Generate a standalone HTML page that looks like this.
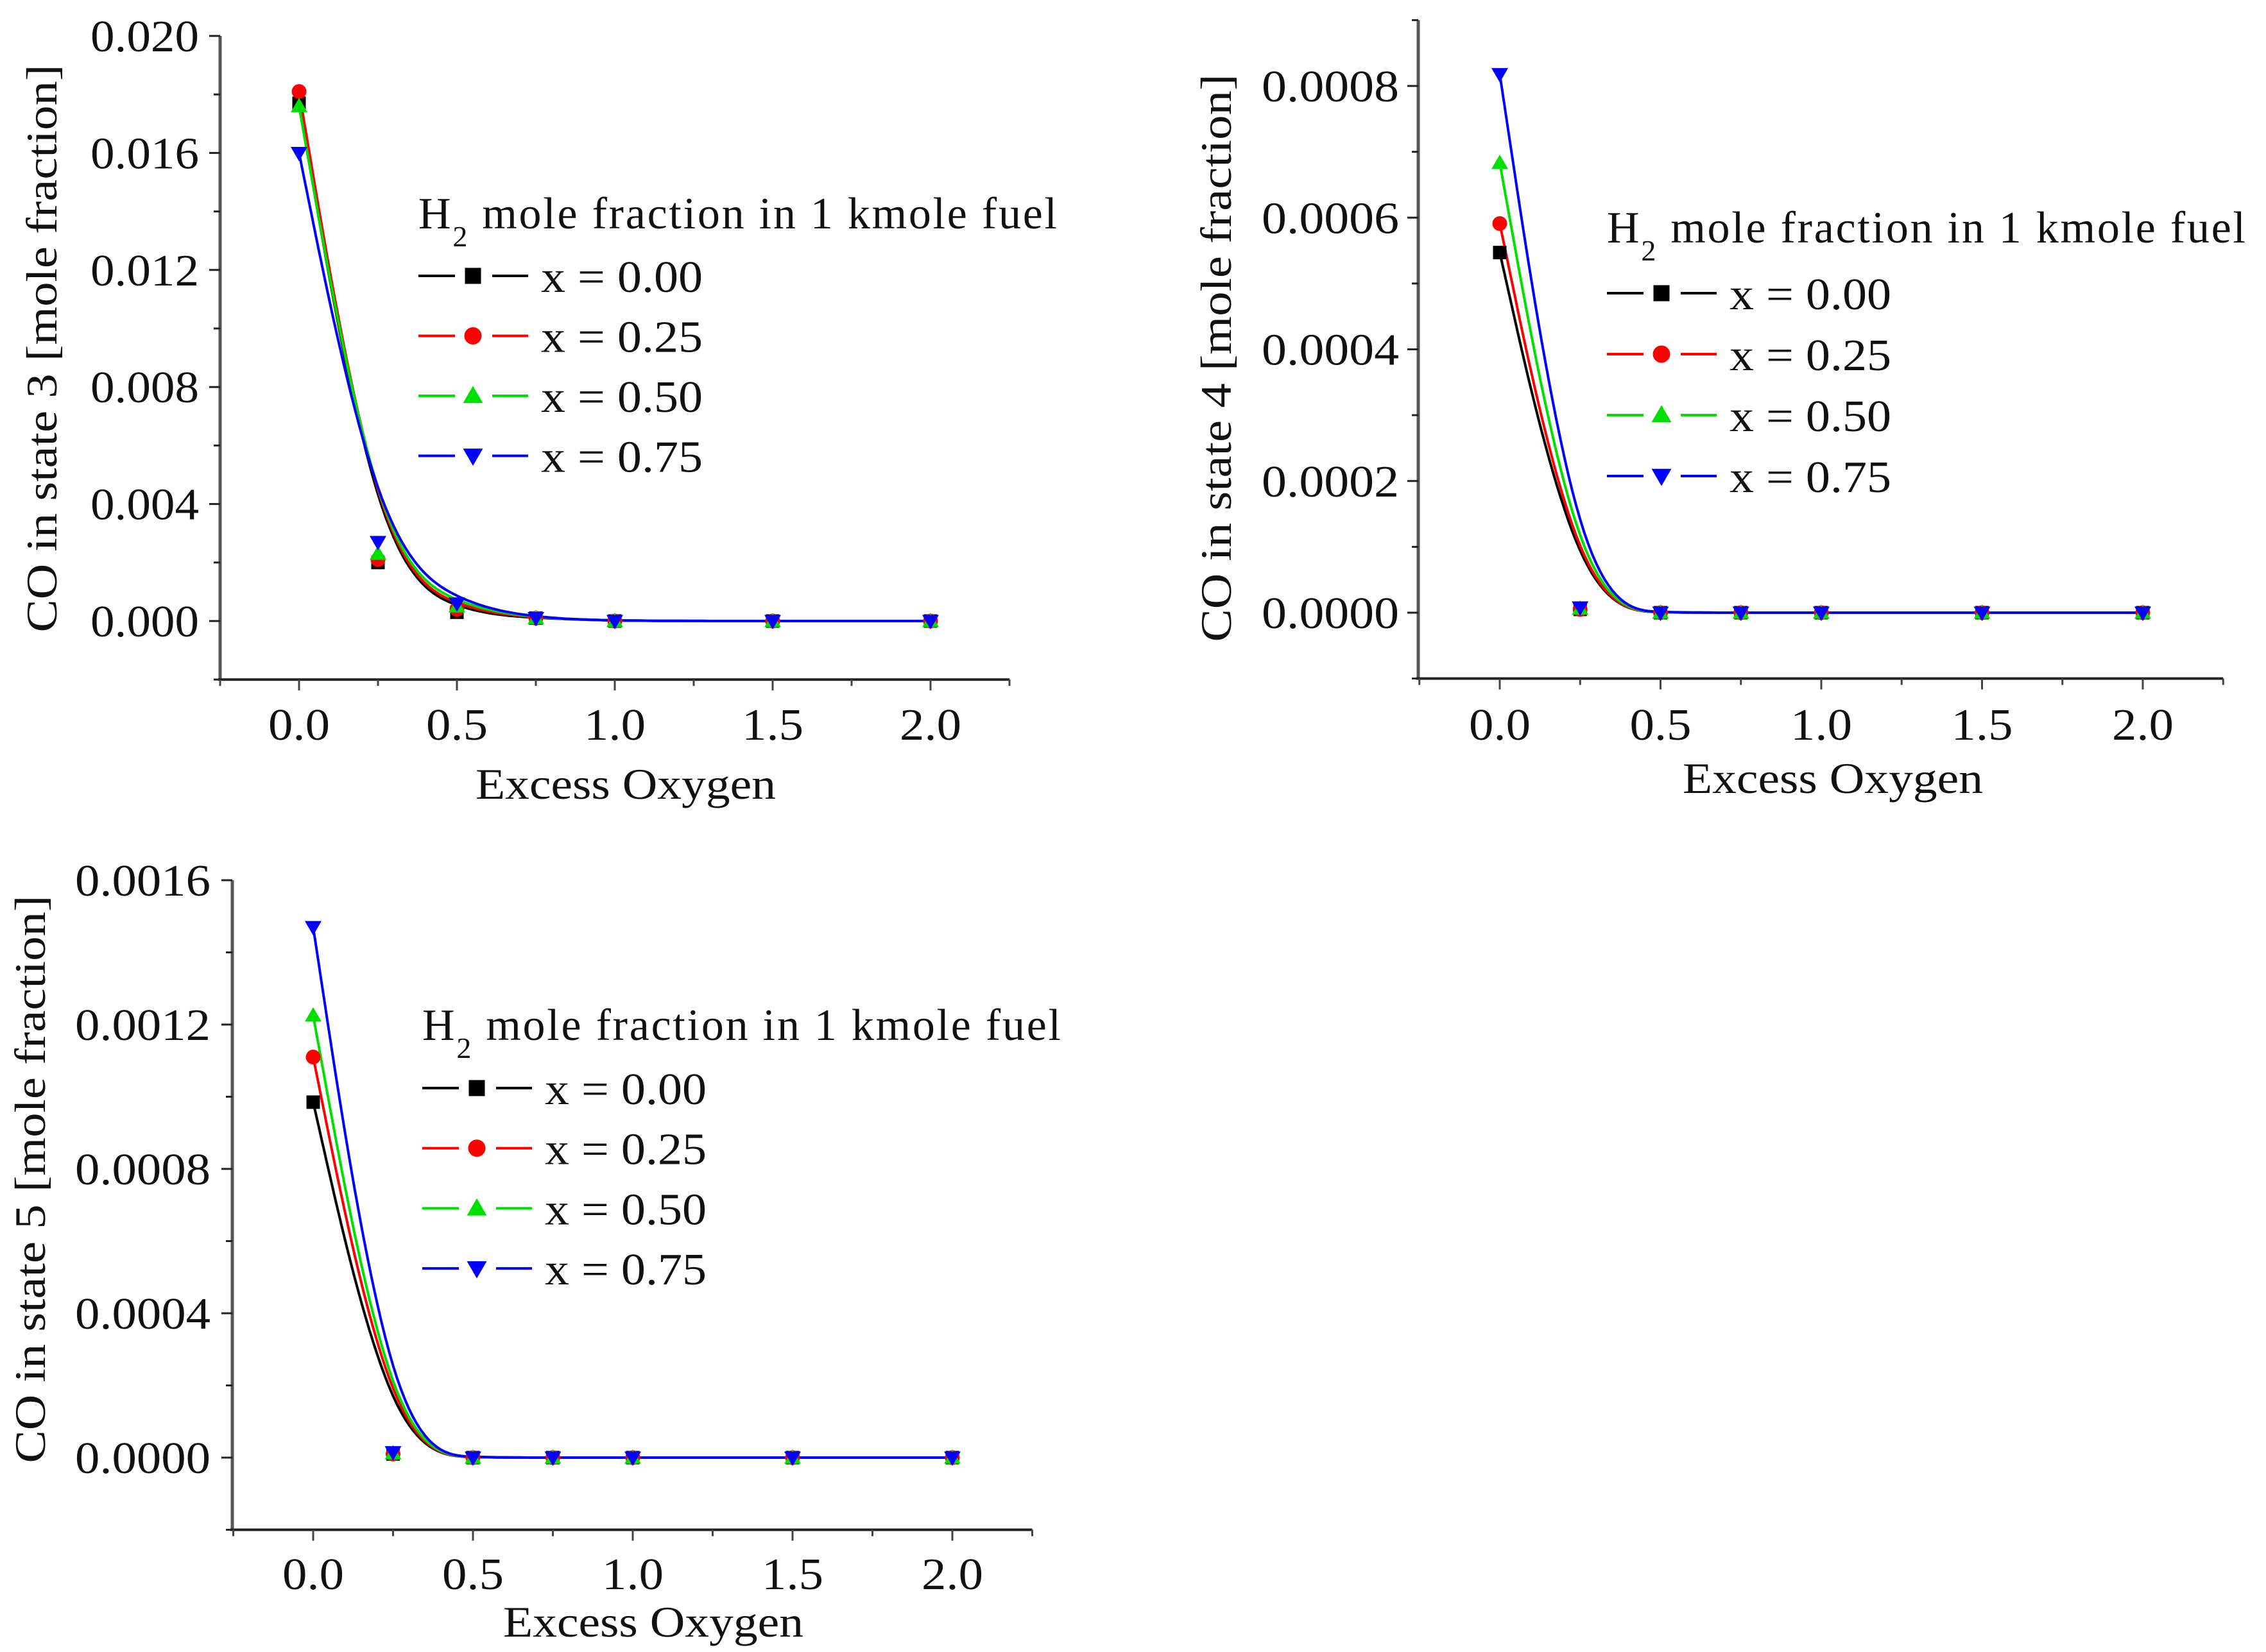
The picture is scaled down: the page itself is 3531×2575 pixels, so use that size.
<!DOCTYPE html>
<html><head><meta charset="utf-8">
<style>
html,body{margin:0;padding:0;background:#fff;}
svg{display:block;font-family:"Liberation Serif",serif;}
</style></head>
<body>
<svg id="fig" width="3531" height="2575" viewBox="0 0 3531 2575" xmlns="http://www.w3.org/2000/svg"></svg>
<script>
// Shared categories
const excessOxygen = [0, 0.25, 0.5, 0.75, 1.0, 1.5, 2.0];
const seriesLabels = ["x = 0.00", "x = 0.25", "x = 0.50", "x = 0.75"];
const xTickLabels = ["0.0", "0.5", "1.0", "1.5", "2.0"];
const xTickValues = [0, 0.5, 1.0, 1.5, 2.0];

// Chart 1: CO in state 3
const state3_x000 = [0.0177, 0.0020, 0.0003, 0.0001, 0, 0, 0];
const state3_x025 = [0.0181, 0.0021, 0.0004, 0.0001, 0, 0, 0];
const state3_x050 = [0.0176, 0.0023, 0.0005, 0.0001, 0, 0, 0];
const state3_x075 = [0.0160, 0.0027, 0.0006, 0.0001, 0, 0, 0];
const state3_yTicks = [0.000, 0.004, 0.008, 0.012, 0.016, 0.020];
const state3_yTickLabels = ["0.000", "0.004", "0.008", "0.012", "0.016", "0.020"];

// Chart 2: CO in state 4
const state4_x000 = [0.000547, 0.000005, 0, 0, 0, 0, 0];
const state4_x025 = [0.000591, 0.000005, 0, 0, 0, 0, 0];
const state4_x050 = [0.000683, 0.000006, 0, 0, 0, 0, 0];
const state4_x075 = [0.000818, 0.000008, 0, 0, 0, 0, 0];
const state4_yTicks = [0.0000, 0.0002, 0.0004, 0.0006, 0.0008];
const state4_yTickLabels = ["0.0000", "0.0002", "0.0004", "0.0006", "0.0008"];

// Chart 3: CO in state 5
const state5_x000 = [0.000985, 0.000010, 0, 0, 0, 0, 0];
const state5_x025 = [0.00111, 0.000010, 0, 0, 0, 0, 0];
const state5_x050 = [0.001225, 0.000012, 0, 0, 0, 0, 0];
const state5_x075 = [0.00147, 0.000015, 0, 0, 0, 0, 0];
const state5_yTicks = [0.0000, 0.0004, 0.0008, 0.0012, 0.0016];
const state5_yTickLabels = ["0.0000", "0.0004", "0.0008", "0.0012", "0.0016"];

const NS = "http://www.w3.org/2000/svg";
const svg = document.getElementById("fig");
const colors = ["#000000", "#ff0000", "#00e000", "#0000ff"];
const markers = ["square", "circle", "up", "down"];

function mk(tag, attrs, parent) {
  const e = document.createElementNS(NS, tag);
  for (const k in attrs) e.setAttribute(k, attrs[k]);
  (parent || svg).appendChild(e);
  return e;
}

function drawMarker(g, type, cx, cy, color, s) {
  let m;
  if (type === "square") m = mk("rect", {x: cx - s/2, y: cy - s/2, width: s, height: s, fill: color}, g);
  else if (type === "circle") m = mk("circle", {cx: cx, cy: cy, r: s/2 + 1, fill: color}, g);
  else if (type === "up") m = mk("polygon", {points: `${cx},${cy - s*0.62} ${cx - s*0.62},${cy + s*0.45} ${cx + s*0.62},${cy + s*0.45}`, fill: color}, g);
  else m = mk("polygon", {points: `${cx},${cy + s*0.62} ${cx - s*0.62},${cy - s*0.45} ${cx + s*0.62},${cy - s*0.45}`, fill: color}, g);
  return m;
}

function bspline(pts) {
  const P = [pts[0], pts[0], ...pts, pts[pts.length-1], pts[pts.length-1]];
  let d = "";
  for (let i = 0; i < P.length - 3; i++) {
    for (let k = 0; k <= 20; k++) {
      const t = k / 20, t2 = t*t, t3 = t2*t;
      const b0 = (1 - 3*t + 3*t2 - t3) / 6, b1 = (4 - 6*t2 + 3*t3) / 6,
            b2 = (1 + 3*t + 3*t2 - 3*t3) / 6, b3 = t3 / 6;
      const x = b0*P[i][0] + b1*P[i+1][0] + b2*P[i+2][0] + b3*P[i+3][0];
      const y = b0*P[i][1] + b1*P[i+1][1] + b2*P[i+2][1] + b3*P[i+3][1];
      d += (d === "" ? "M" : "L") + x.toFixed(1) + "," + y.toFixed(1);
    }
  }
  return d;
}

function chart(cfg) {
  const g = mk("g", {});
  
  
  const X = v => cfg.x0 + v * cfg.xUnit;
  const Y = v => cfg.y0 - v * cfg.yUnit;

  const yAxis = mk("line", {x1: cfg.axX, y1: Y(cfg.yTop), x2: cfg.axX, y2: Y(cfg.yBot), stroke: "#555", "stroke-width": 5}, g);
  
  
  const xAxis = mk("line", {x1: cfg.axX - 3, y1: Y(cfg.yBot), x2: X(2.25), y2: Y(cfg.yBot), stroke: "#222", "stroke-width": 4}, g);
  
  

  for (let v = cfg.yBot; v <= cfg.yTop + 1e-12; v += cfg.yMinor) {
    const isMajor = cfg.yTicks.some(t => Math.abs(t - v) < cfg.yMinor * 0.01);
    mk("line", {x1: cfg.axX - (isMajor ? 17 : 10), y1: Y(v), x2: cfg.axX, y2: Y(v), stroke: "#222", "stroke-width": 3}, g);
  }
  cfg.yTicks.forEach((v, i) => {
    const t = mk("text", {x: cfg.labRight, y: Y(v) + 24, "text-anchor": "end", "font-size": 70, fill: "#111", textLength: cfg.yLabLen, lengthAdjust: "spacingAndGlyphs"}, g);
    t.textContent = cfg.yTickLabels[i];
    
    
  });
  for (let v = -0.25; v <= 2.25 + 1e-9; v += 0.25) {
    const isMajor = Math.abs(v * 2 - Math.round(v * 2)) < 1e-6;
    mk("line", {x1: X(v), y1: Y(cfg.yBot), x2: X(v), y2: Y(cfg.yBot) + (isMajor ? 17 : 10), stroke: "#444", "stroke-width": 3}, g);
  }
  xTickValues.forEach((v, i) => {
    const t = mk("text", {x: X(v), y: cfg.xLabBase, "text-anchor": "middle", "font-size": 70, fill: "#111", textLength: 96, lengthAdjust: "spacingAndGlyphs"}, g);
    t.textContent = xTickLabels[i];
    
    
  });
  const xt = mk("text", {x: cfg.xTitleX, y: cfg.xTitleY, "text-anchor": "middle", "font-size": 68, fill: "#111", textLength: 468, lengthAdjust: "spacingAndGlyphs"}, g);
  xt.textContent = "Excess Oxygen";
  
  
  const yt = mk("text", {x: 0, y: 0, "text-anchor": "middle", "font-size": 68, fill: "#111", textLength: 885, lengthAdjust: "spacingAndGlyphs", transform: `translate(${cfg.yTitleX},${cfg.yTitleY}) rotate(-90)`}, g);
  yt.textContent = cfg.yTitle;
  
  

  cfg.series.forEach((vals, si) => {
    const pts = excessOxygen.map((x, i) => [X(x), Y(vals[i])]);
    const path = mk("path", {d: bspline(pts), fill: "none", stroke: colors[si], "stroke-width": 4}, g);
    
    
  });
  cfg.series.forEach((vals, si) => {
    excessOxygen.forEach((x, i) => {
      const m = drawMarker(g, markers[si], X(x), Y(vals[i]), colors[si], 21);
      
      
    });
  });

  const lg = mk("g", {}, g);
  
  
  const lt = mk("text", {x: cfg.legX, y: cfg.legTitleY, "font-size": 70, fill: "#111"}, lg);
  
  
  lt.innerHTML = 'H<tspan font-size="46" dy="28">2</tspan><tspan dy="-28"> mole fraction in 1 kmole fuel</tspan>';
  lt.setAttribute("textLength", 995);
  seriesLabels.forEach((lab, si) => {
    const cy = cfg.legY0 + si * cfg.legDy;
    const e = mk("g", {}, lg);
    
    
    mk("line", {x1: cfg.legX, y1: cy, x2: cfg.legX + 57, y2: cy, stroke: colors[si], "stroke-width": 4}, e);
    mk("line", {x1: cfg.legX + 115, y1: cy, x2: cfg.legX + 171, y2: cy, stroke: colors[si], "stroke-width": 4}, e);
    drawMarker(e, markers[si], cfg.legX + 85, cy, colors[si], 25);
    const t = mk("text", {x: cfg.legX + 191, y: cy + 25, "font-size": 70, fill: "#111", textLength: 252, lengthAdjust: "spacingAndGlyphs"}, e);
    t.textContent = lab;
  });
}

chart({name: "chart-state-3", axX: 343, x0: 466, xUnit: 492, y0: 968, yUnit: 912/0.02,
  yTop: 0.020, yBot: -0.002, yMinor: 0.002, yTicks: state3_yTicks, yTickLabels: state3_yTickLabels, yLabLen: 169,
  labRight: 310, xLabBase: 1153, xTitleX: 975, xTitleY: 1245, yTitleX: 88, yTitleY: 543,
  yTitle: "CO in state 3 [mole fraction]",
  series: [state3_x000, state3_x025, state3_x050, state3_x075],
  legX: 652, legTitleY: 356, legY0: 430, legDy: 93.5});

chart({name: "chart-state-4", axX: 2210, x0: 2337, xUnit: 501, y0: 955, yUnit: 821/0.0008,
  yTop: 0.0009, yBot: -0.0001, yMinor: 0.0001, yTicks: state4_yTicks, yTickLabels: state4_yTickLabels, yLabLen: 214,
  labRight: 2180, xLabBase: 1153, xTitleX: 2856, xTitleY: 1236, yTitleX: 1918, yTitleY: 558,
  yTitle: "CO in state 4 [mole fraction]",
  series: [state4_x000, state4_x025, state4_x050, state4_x075],
  legX: 2504, legTitleY: 378, legY0: 457, legDy: 95});

chart({name: "chart-state-5", axX: 362, x0: 488, xUnit: 498, y0: 2272, yUnit: 900/0.0016,
  yTop: 0.0016, yBot: -0.0002, yMinor: 0.0002, yTicks: state5_yTicks, yTickLabels: state5_yTickLabels, yLabLen: 211,
  labRight: 328, xLabBase: 2477, xTitleX: 1018, xTitleY: 2551, yTitleX: 70, yTitleY: 1838,
  yTitle: "CO in state 5 [mole fraction]",
  series: [state5_x000, state5_x025, state5_x050, state5_x075],
  legX: 658, legTitleY: 1621, legY0: 1696, legDy: 93.7});
</script>
</body></html>
